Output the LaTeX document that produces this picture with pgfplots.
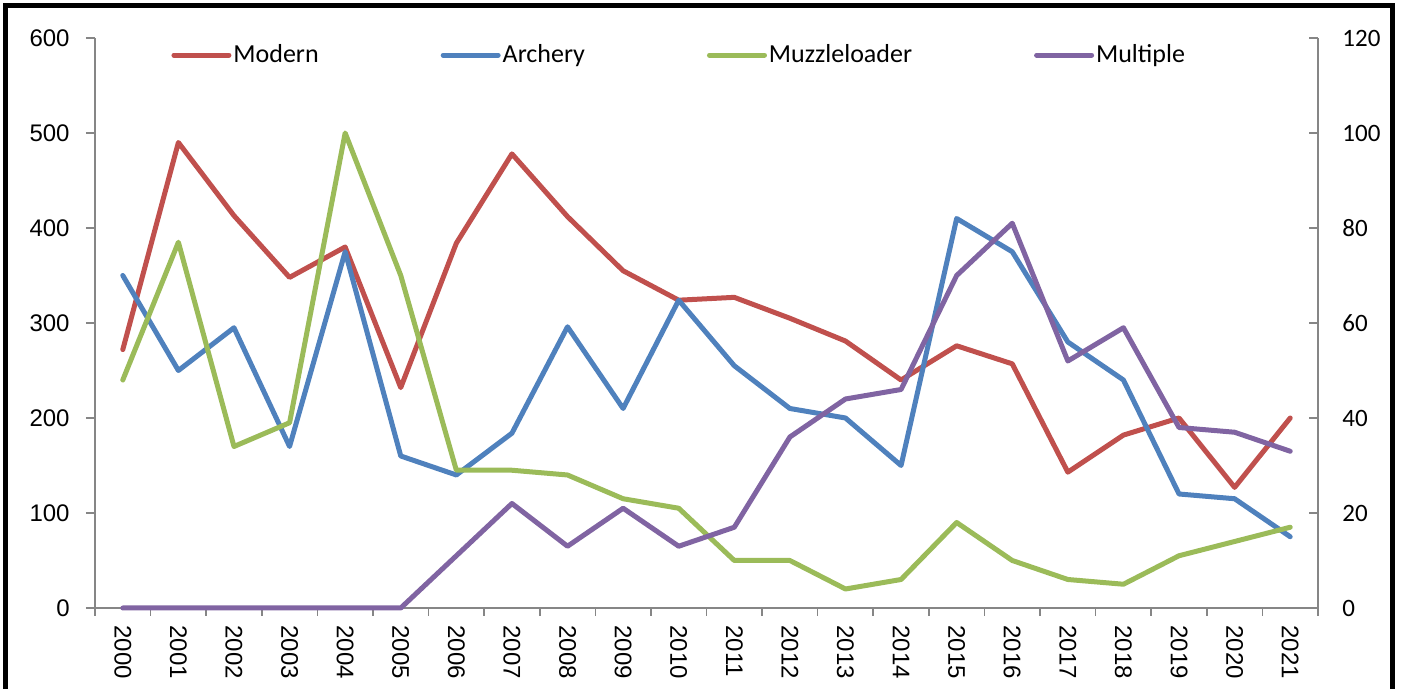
\documentclass[border=0pt]{standalone}
\usepackage{fontspec}
\setmainfont{Carlito}
\newfontfamily\arial{Liberation Sans}
\usepackage{pgfplots}
\pgfplotsset{compat=1.18}
\definecolor{cmod}{HTML}{C0504D}
\definecolor{carc}{HTML}{4F81BD}
\definecolor{cmuz}{HTML}{9BBB59}
\definecolor{cmul}{HTML}{8064A2}
\definecolor{axisgray}{HTML}{868686}
\pgfplotstableread{
x modern archery
0 272 350
1 490 250
2 413 295
3 348 170
4 380 375
5 232 160
6 384 140
7 478 184
8 412 296
9 355 210
10 324 324
11 327 255
12 305 210
13 281 200
14 240 150
15 276 410
16 257 375
17 143 280
18 182 240
19 200 120
20 127 115
21 200 75
}\lefttable
\pgfplotstableread{
x muzzle multiple
0 48 0
1 77 0
2 34 0
3 39 0
4 100 0
5 70 0
6 29 11
7 29 22
8 28 13
9 23 21
10 21 13
11 10 17
12 10 36
13 4 44
14 6 46
15 18 70
16 10 81
17 6 52
18 5 59
19 11 38
20 14 37
21 17 33
}\righttable
\begin{document}
\begin{tikzpicture}[x=1pt,y=1pt]
\useasboundingbox (0,0) rectangle (701.5,344.5);
\draw[line width=2.2pt] (2.75,-5) -- (2.75,341.75) -- (696.25,341.75) -- (696.25,-5);
\begin{axis}[
  at={(47.5pt,40.5pt)}, anchor=south west, scale only axis,
  width=611.5pt, height=285pt,
  xmin=-0.5, xmax=21.5, ymin=0, ymax=600,
  axis x line*=bottom, axis y line*=left,
  axis line style={draw=axisgray, line width=0.8pt, -},
  xtick={0,...,21},
  xticklabels={2000,2001,2002,2003,2004,2005,2006,2007,2008,2009,2010,2011,2012,2013,2014,2015,2016,2017,2018,2019,2020,2021},
  minor xtick={-0.5,0.5,...,21.5},
  ytick={0,100,...,600},
  tick align=outside, major tick length=4.5pt, minor tick length=4pt,
  tick style={draw=axisgray, line width=0.8pt},
  major x tick style={draw=none},
  /pgf/number format/assume math mode=true,
  yticklabel style={font=\arial\fontsize{12}{14}\selectfont, inner sep=0pt, xshift=-8pt},
  xticklabel style={font=\arial\fontsize{12}{14}\selectfont, yshift=-4pt, rotate=-90, anchor=west, inner sep=0pt},
  clip=false,
  every axis plot/.append style={line width=2.5pt, line join=round, line cap=round, no marks},
]
\addplot[cmod] table[x=x,y=modern] {\lefttable};
\addplot[carc] table[x=x,y=archery] {\lefttable};
\end{axis}
\begin{axis}[
  at={(47.5pt,40.5pt)}, anchor=south west, scale only axis,
  width=611.5pt, height=285pt,
  xmin=-0.5, xmax=21.5, ymin=0, ymax=120,
  axis x line=none, axis y line*=right,
  axis line style={draw=axisgray, line width=0.8pt, -},
  ytick={0,20,...,120},
  tick align=inside, major tick length=4.5pt,
  tick style={draw=axisgray, line width=0.8pt},
  /pgf/number format/assume math mode=true,
  yticklabel style={font=\fontsize{12.5}{14}\selectfont, inner sep=0pt, xshift=12pt},
  clip=false,
  every axis plot/.append style={line width=2.5pt, line join=round, line cap=round, no marks},
  legend columns=4,
  legend style={draw=none, fill=none, at={(axis description cs:0.0625,0.970)}, anchor=west,
    inner sep=0pt, outer sep=0pt, font=\fontsize{13}{15}\selectfont,
    nodes={inner sep=0pt},
    /tikz/every odd column/.append style={column sep=1pt},
    /tikz/every even column/.append style={column sep=61pt}},
  legend image code/.code={\draw[#1, line cap=round] (0pt,0pt) -- (27.5pt,0pt);},
]
\addlegendimage{cmod, line width=2.5pt}
\addlegendentry{Modern}
\addlegendimage{carc, line width=2.5pt}
\addlegendentry{Archery}
\addplot[cmuz] table[x=x,y=muzzle] {\righttable};
\addlegendentry{Muzzleloader}
\addplot[cmul] table[x=x,y=multiple] {\righttable};
\addlegendentry{Multiple}
\end{axis}
\end{tikzpicture}
\end{document}
